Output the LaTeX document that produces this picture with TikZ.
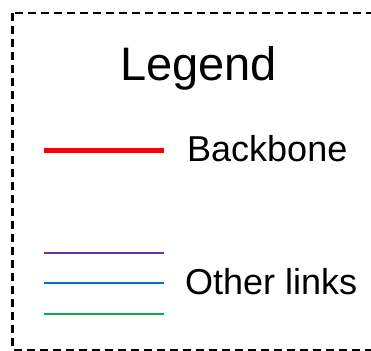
\documentclass[tikz,border=0pt]{standalone}
\usepackage{fontspec}
\setmainfont{Liberation Sans}
\usepackage{xcolor}
\usetikzlibrary{positioning}

\definecolor{linkpurple}{HTML}{7030A0}
\definecolor{linkblue}{HTML}{0070C0}
\definecolor{linkgreen}{HTML}{00B050}

\begin{document}
\begin{tikzpicture}[
  x=1bp, y=-1bp,
  frame/.style={draw, line width=2bp, dash pattern=on 8bp off 5bp},
  title/.style={font=\fontsize{47bp}{50bp}\selectfont, anchor=base},
  label/.style={font=\fontsize{36bp}{40bp}\selectfont, anchor=base west, inner sep=0pt},
  backbone/.style={draw=red, line width=5bp},
  otherlink/.style={line width=2bp}
]
\useasboundingbox (0,0) rectangle (371,351);
\draw[frame] (12.5,13) rectangle (390,349.5);

\node[title] (legend) at (198.5,80) {Legend};

% backbone swatch
\coordinate (bbA) at (44,150);
\coordinate (bbB) at (164,150);
\draw[backbone] (bbA) -- (bbB);
\node[label] (bbtext) at (187,161) {Backbone};

% the other link colours
\coordinate (purA) at (44,253);
\coordinate (purB) at (164,253);
\coordinate (bluA) at (44,283);
\coordinate (bluB) at (164,283);
\coordinate (grnA) at (44,314);
\coordinate (grnB) at (164,314);
\draw[otherlink, linkpurple] (purA) -- (purB);
\draw[otherlink, linkblue] (bluA) -- (bluB);
\draw[otherlink, linkgreen] (grnA) -- (grnB);
\node[label] (othertext) at (185,294) {Other links};
\end{tikzpicture}
\end{document}
